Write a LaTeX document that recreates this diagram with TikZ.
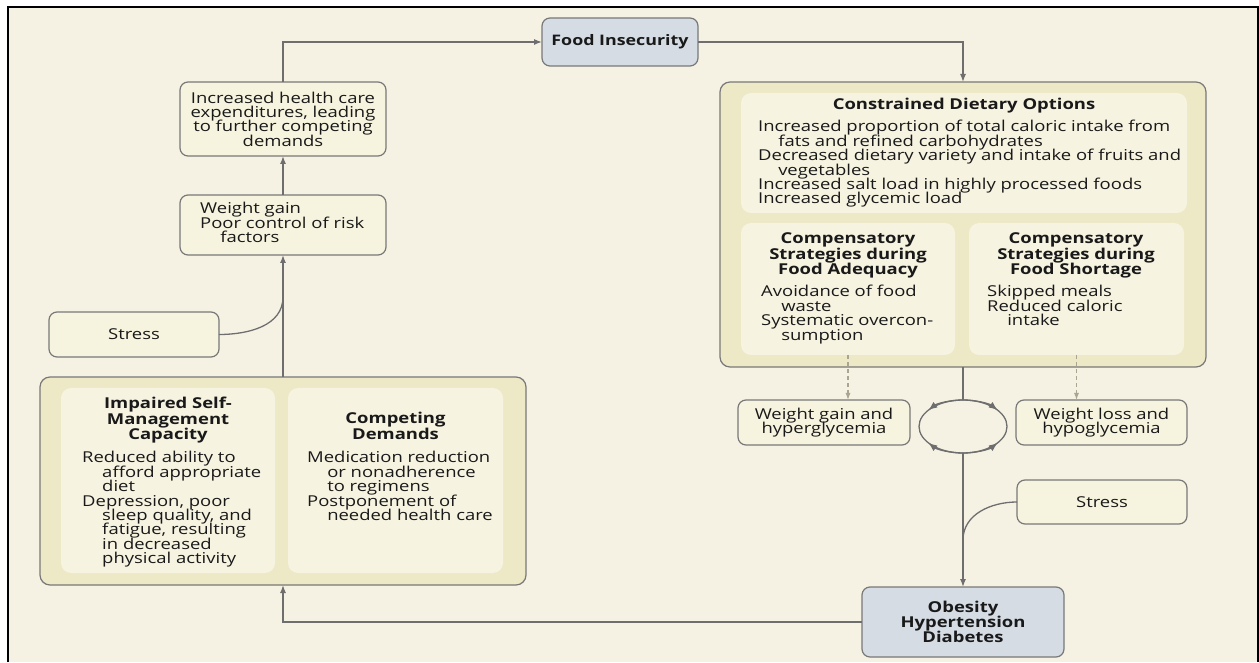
\documentclass[tikz,border=0pt]{standalone}
\usepackage{fontspec}
\setmainfont{Open Sans}
\usetikzlibrary{arrows.meta,shapes.geometric,fit}
\definecolor{bgc}{RGB}{245,242,228}
\definecolor{contc}{RGB}{237,232,197}
\definecolor{innc}{RGB}{246,243,225}
\definecolor{boxc}{RGB}{246,243,222}
\definecolor{bluec}{RGB}{213,220,228}
\definecolor{edgec}{RGB}{120,120,120}
\definecolor{linec}{RGB}{110,110,110}
\definecolor{dashc}{RGB}{170,165,145}
\definecolor{txtc}{RGB}{25,25,25}
\newcommand\bodyfont{\fontsize{15}{14.4}\selectfont}
\newcommand\ttlfont{\fontsize{15}{15.5}\selectfont\bfseries}
\newcommand\bigfont{\fontsize{14.5}{15}\selectfont\bfseries}
\newcommand\obsfont{\fontsize{15}{15}\selectfont\bfseries}
\newcommand\bls{\baselineskip=14.4pt\lineskiplimit=-20pt\lineskip=0pt\parskip=0pt\relax}
\newcommand\tls{\baselineskip=15.5pt\lineskiplimit=-20pt\lineskip=0pt\parskip=0pt\relax}
\newcommand\ind{\hspace*{16.3pt}}
\newcommand\sx[1]{\scalebox{1.23}[1]{#1}}
\begin{document}
\begin{tikzpicture}[x=1pt,y=1pt,
  every node/.style={font=\bodyfont, text=txtc},
  smallbox/.style={draw=edgec, fill=boxc, line width=1.2pt, rounded corners=8pt, inner sep=0pt, outer sep=0pt},
  bluebox/.style={draw=edgec, fill=bluec, line width=1.2pt, rounded corners=8pt, inner sep=0pt, outer sep=0pt},
  container/.style={draw=edgec, fill=contc, line width=1.2pt, rounded corners=10pt, inner sep=0pt, outer sep=0pt},
  innerbox/.style={fill=innc, rounded corners=10pt, inner sep=0pt, outer sep=0pt},
  txt/.style={inner sep=0pt, anchor=base west},
  ctxt/.style={inner sep=0pt},
  ttl/.style={inner sep=0pt, anchor=base, font=\ttlfont},
  conn/.style={draw=linec, line width=1.3pt},
  arr/.style={conn, -{Latex[length=8pt,width=6pt]}},
  cycarr/.style={conn, -{Latex[length=9pt,width=7pt]}},
  dasharr/.style={draw=dashc, line width=1.2pt, dash pattern=on 4pt off 3pt, -{Latex[length=7pt,width=5pt]}},
]
\useasboundingbox (0,0) rectangle (1259,662);
\fill[white] (0,0) rectangle (1259,662);
\fill[bgc] (8,0) rectangle (1258,655);
\draw[black, line width=2pt] (8,0) -- (8,655) -- (1258,655) -- (1258,0);

% top
\node[bluebox, fit={(542,596) (698,644)}] (fi) {};
\node[ctxt, font=\bigfont] (fiT) at (fi.center) {\sx{Food Insecurity}};

% left column
\node[smallbox, fit={(180,506) (386,580)}] (hc) {};
\node[ctxt] (hcT) at (hc.center) {\sx{\parbox{160pt}{\bls\centering Increased health care\\expenditures, leading\\to further competing\\demands}}};
\node[smallbox, fit={(180,407) (386,467)}] (wg) {};
\node[txt] (wgT) at (200,448) {\sx{\parbox[t]{150pt}{\bls\raggedright Weight gain\\Poor control of risk\\\ind factors}}};
\node[smallbox, fit={(49,305) (219,350)}] (stL) {};
\node[ctxt] (stLT) at (stL.center) {\sx{Stress}};

\node[container, fit={(40,77) (526,285)}] (isc) {};
\node[innerbox, fit={(61,89) (275,274)}] (ism) {};
\node[innerbox, fit={(288,89) (503,274)}] (cmp) {};
\node[ttl] (ismT) at (168,253) {\sx{\parbox[t]{160pt}{\tls\centering Impaired Self-\\Management\\Capacity}}};
\node[txt] (ismB) at (82,199) {\sx{\parbox[t]{160pt}{\bls\raggedright Reduced ability to\\\ind afford appropriate\\\ind diet\\Depression, poor\\\ind sleep quality, and\\\ind fatigue, resulting\\\ind in decreased\\\ind physical activity}}};
\node[ttl] (cmpT) at (395.5,238) {\sx{\parbox[t]{160pt}{\tls\centering Competing\\Demands}}};
\node[txt] (cmpB) at (307,199) {\sx{\parbox[t]{160pt}{\bls\raggedright Medication reduction\\\ind or nonadherence\\\ind to regimens\\Postponement of\\\ind needed health care}}};

% right column
\node[container, fit={(720,295) (1206,580)}] (cdo) {};
\node[innerbox, fit={(741,449) (1187,569)}] (cdi) {};
\node[innerbox, fit={(741,307) (955,439)}] (ade) {};
\node[innerbox, fit={(969,307) (1184,439)}] (sho) {};
\node[ttl] (cdiT) at (964,552) {\sx{Constrained Dietary Options}};
\node[txt] (cdiB) at (758,530) {\sx{\parbox[t]{350pt}{\bls\raggedright Increased proportion of total caloric intake from\\\ind fats and refined carbohydrates\\Decreased dietary variety and intake of fruits and\\\ind vegetables\\Increased salt load in highly processed foods\\Increased glycemic load}}};
\node[ttl] (adeT) at (848,418) {\sx{\parbox[t]{160pt}{\tls\centering Compensatory\\Strategies during\\Food Adequacy}}};
\node[txt] (adeB) at (761,365) {\sx{\parbox[t]{160pt}{\bls\raggedright Avoidance of food\\\ind waste\\Systematic overcon-\\\ind sumption}}};
\node[ttl] (shoT) at (1076,418) {\sx{\parbox[t]{160pt}{\tls\centering Compensatory\\Strategies during\\Food Shortage}}};
\node[txt] (shoB) at (987,365) {\sx{\parbox[t]{160pt}{\bls\raggedright Skipped meals\\Reduced caloric\\\ind intake}}};

\node[smallbox, fit={(738,217) (910,262)}] (wgh) {};
\node[ctxt] (wghT) at (wgh.center) {\sx{\parbox{130pt}{\bls\centering Weight gain and\\hyperglycemia}}};
\node[smallbox, fit={(1016,217) (1187,262)}] (wlh) {};
\node[ctxt] (wlhT) at (wlh.center) {\sx{\parbox{130pt}{\bls\centering Weight loss and\\hypoglycemia}}};
\node[draw=linec, line width=1.3pt, ellipse, minimum width=88pt, minimum height=53pt, inner sep=0pt, outer sep=0pt] (cyc) at (963,235.5) {};
\node[smallbox, fit={(1017,138) (1187,182)}] (stR) {};
\node[ctxt] (stRT) at (stR.center) {\sx{Stress}};
\node[bluebox, fit={(862,5) (1064,75)}] (obs) {};
\node[ctxt, font=\obsfont] (obsT) at (obs.center) {\sx{\parbox{150pt}{\baselineskip=15pt\lineskiplimit=-20pt\centering Obesity\\Hypertension\\Diabetes}}};

% connectors
\draw[arr] (hc.north) |- (fi.west);
\draw[arr] (fi.east) -| (cdo.north);
\draw[arr] (wg.north) -- (hc.south);
\draw[arr] (isc.north) -- (wg.south);
\coordinate (mL) at (283,365);
\draw[conn] (stL.east) to[out=0,in=-90] (mL);
\draw[conn] (cdo.south) -- (cyc.north);
\draw[arr] (cyc.south) -- (obs.north);
\coordinate (mR) at (963,122);
\draw[conn] (stR.west) to[out=180,in=90] (mR);
\draw[arr] (obs.west) -| (isc.south);
\draw[dasharr] (ade.south) -- (ade.south |- wgh.north);
\draw[dasharr] (sho.south) -- (sho.south |- wlh.north);
% cycle arrowheads
\draw[cycarr] (cyc.north) arc[start angle=90, end angle=142, x radius=44pt, y radius=26.5pt];
\draw[cycarr] (cyc.north) arc[start angle=90, end angle=38, x radius=44pt, y radius=26.5pt];
\draw[cycarr] (cyc.south) arc[start angle=270, end angle=218, x radius=44pt, y radius=26.5pt];
\draw[cycarr] (cyc.south) arc[start angle=270, end angle=322, x radius=44pt, y radius=26.5pt];
\end{tikzpicture}
\end{document}
